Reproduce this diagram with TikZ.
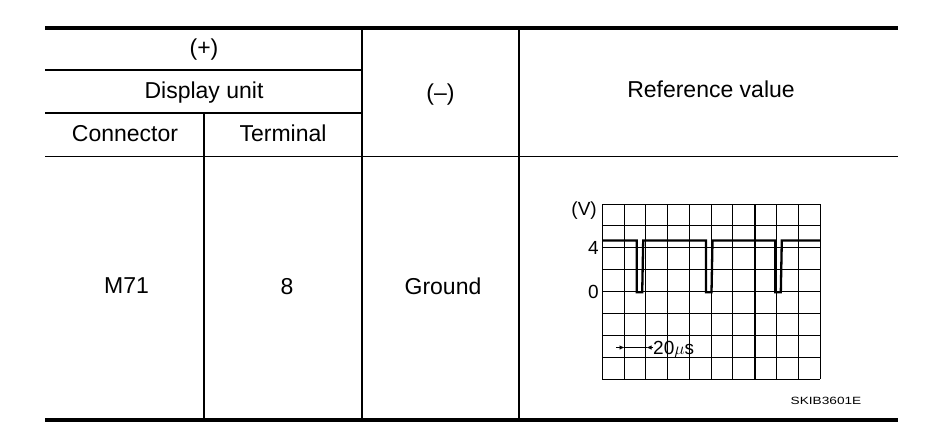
\documentclass[tikz,border=0pt]{standalone}
\usepackage{fontspec}
\setmainfont{Liberation Sans}
\usepackage{tikz}
\usetikzlibrary{arrows.meta}

\begin{document}
\begin{tikzpicture}[x=1pt,y=-1pt]
	\tikzstyle{cell}=[font=\fontsize{23}{25}\selectfont,text height=16pt,text depth=0pt,inner sep=0pt]
	\tikzstyle{scopelabel}=[font=\fontsize{19}{21}\selectfont,text height=13.5pt,text depth=0pt,inner sep=0pt]
	\tikzstyle{rule}=[line width=4pt]
	\tikzstyle{hline}=[line width=1.3pt]
	\tikzstyle{vline}=[line width=2pt]
	\tikzstyle{grid}=[line width=0.9pt]
	\tikzstyle{wave}=[line width=2.3pt]
	\tikzstyle{tick}=[line width=0.8pt,-{Latex[length=5pt,width=4.5pt]}]
	\useasboundingbox (0,0) rectangle (944,440);
	% table frame
	\draw[rule] (45,28) -- (898,28);
	\draw[rule] (45,419.5) -- (898,419.5);
	\draw[hline] (45,70) -- (362,70);
	\draw[vline] (45,113) -- (362,113);
	\draw[hline] (45,156.5) -- (898,156.5);
	\draw[hline] (204,113) -- (204,419.5);
	\draw[vline] (362,28) -- (362,419.5);
	\draw[vline] (519,28) -- (519,419.5);
	% header
	\node[cell] (plus) at (204,47) {(+)};
	\node[cell] (disp) at (204,90) {Display unit};
	\node[cell] (conn) at (125,133.5) {Connector};
	\node[cell] (term) at (283,133.5) {Terminal};
	\node[cell] (minus) at (440.5,92.5) {(--)};
	\node[cell] (ref) at (711,89.5) {Reference value};
	% values
	\node[cell] (m71) at (126.5,285.5) {M71};
	\node[cell] (pin) at (287,286.5) {8};
	\node[cell] (gnd) at (443,286) {Ground};
	% scope grid
	\foreach \i in {0,...,10}
		\draw[grid] ({602.3+21.77*\i},204) -- ({602.3+21.77*\i},379.3);
	\foreach \j in {0,...,8}
		\draw[grid] (602.3,{204+21.91*\j}) -- (820,{204+21.91*\j});
	\draw[vline] ({602.3+21.77*7},204) -- ({602.3+21.77*7},379.3);
	\node[scopelabel,anchor=east] (volt) at (597,208.5) {(V)};
	\node[scopelabel,anchor=east] (four) at (599,247.5) {4};
	\node[scopelabel,anchor=east] (zero) at (599,291.5) {0};
	% waveform
	\draw[wave] (602.3,240.5) foreach \p in {636.7,706,775.3} {
		-- (\p,240.5) -- (\p,292.3) -- (\p+5.5,292.3) -- (\p+6.5,240.5)} -- (820,240.5);
	% time base
	\coordinate (ta) at (616,347.5);
	\coordinate (tb) at (624.5,347.5);
	\coordinate (tc) at (646.5,347.5);
	\coordinate (td) at (653,347.5);
	\draw[line width=0.8pt] (tb) -- (tc);
	\draw[tick] (ta) -- (tb);
	\draw[tick] (td) -- (tc);
	\node[scopelabel,anchor=west] (tdiv) at (653,347.5) {20$\mu$s};
	\node[font=\fontsize{10.5}{12}\selectfont,inner sep=0pt] (code) at (826,401) {\scalebox{1.3}[1]{SKIB3601E}};
\end{tikzpicture}
\end{document}
